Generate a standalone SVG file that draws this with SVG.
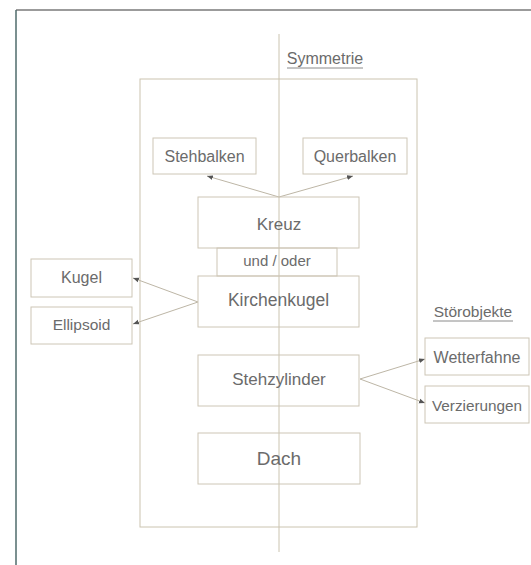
<svg xmlns="http://www.w3.org/2000/svg" width="531" height="565" viewBox="0 0 531 565">
<defs>
<style>
.box{fill:none;stroke:#cdc6b6;stroke-width:1}
.lbl{font-family:"Liberation Sans",Arial,sans-serif;fill:#6b6b6b;text-anchor:middle}
.conn{stroke:#bdb6a6;stroke-width:1;fill:none;marker-end:url(#ah)}
.guide{stroke:#cbc4b0;stroke-width:1;fill:none}
</style>
<marker id="ah" viewBox="0 0 10 10" refX="10" refY="5" markerWidth="6" markerHeight="6" orient="auto" markerUnits="userSpaceOnUse">
<path d="M0,1 L10,5 L0,9 z" fill="#555"/>
</marker>
</defs>
<rect width="531" height="565" fill="#ffffff"/>
<g id="frame">
<line x1="16" y1="10" x2="531" y2="10" stroke="#7a7a7a" stroke-width="1.5"/>
<line x1="16" y1="10" x2="16" y2="565" stroke="#4f6b6b" stroke-width="1.5"/>
</g>
<g id="container">
<rect class="guide" x="140" y="79" width="277" height="448"/>
<line class="guide" x1="279" y1="34" x2="279" y2="552"/>
</g>
<g id="symmetrie">
<text class="lbl" x="325" y="64" font-size="16">Symmetrie</text>
<line x1="287" y1="68" x2="363" y2="68" stroke="#8a8a8a" stroke-width="1"/>
</g>
<g id="stoerobjekte">
<text class="lbl" x="473" y="317" font-size="15.5">Störobjekte</text>
<line x1="433" y1="321" x2="513" y2="321" stroke="#8a8a8a" stroke-width="1"/>
</g>
<g id="connectors">
<line class="conn" x1="279" y1="197" x2="207" y2="176"/>
<line class="conn" x1="279" y1="197" x2="353" y2="176"/>
<line class="conn" x1="198" y1="302" x2="133" y2="278"/>
<line class="conn" x1="198" y1="302" x2="133" y2="324"/>
<line class="conn" x1="360" y1="379" x2="425" y2="359"/>
<line class="conn" x1="360" y1="379" x2="425" y2="403"/>
</g>
<g id="stehbalken"><rect class="box" x="153" y="138" width="103" height="36"/><text class="lbl" x="204.5" y="162" font-size="16">Stehbalken</text></g>
<g id="querbalken"><rect class="box" x="303" y="138" width="104" height="36"/><text class="lbl" x="355" y="162" font-size="16">Querbalken</text></g>
<g id="kreuz"><rect class="box" x="198" y="197" width="161" height="51"/><text class="lbl" x="279" y="230" font-size="17">Kreuz</text></g>
<g id="undoder"><rect class="box" x="217" y="248" width="120" height="28"/><text class="lbl" x="277" y="266" font-size="15">und / oder</text></g>
<g id="kirchenkugel"><rect class="box" x="198" y="276" width="161" height="51"/><text class="lbl" x="278.5" y="306" font-size="17.5">Kirchenkugel</text></g>
<g id="kugel"><rect class="box" x="31" y="259" width="101" height="38"/><text class="lbl" x="81.5" y="283" font-size="16">Kugel</text></g>
<g id="ellipsoid"><rect class="box" x="31" y="307" width="101" height="37"/><text class="lbl" x="81.5" y="330" font-size="15.5">Ellipsoid</text></g>
<g id="stehzylinder"><rect class="box" x="198" y="355" width="161" height="51"/><text class="lbl" x="279" y="385" font-size="17">Stehzylinder</text></g>
<g id="wetterfahne"><rect class="box" x="425" y="338" width="104" height="37"/><text class="lbl" x="477" y="363" font-size="16">Wetterfahne</text></g>
<g id="verzierungen"><rect class="box" x="425" y="386" width="104" height="37"/><text class="lbl" x="477" y="411" font-size="15.3">Verzierungen</text></g>
<g id="dach"><rect class="box" x="198" y="433" width="162" height="51"/><text class="lbl" x="279" y="465" font-size="19">Dach</text></g>
</svg>
